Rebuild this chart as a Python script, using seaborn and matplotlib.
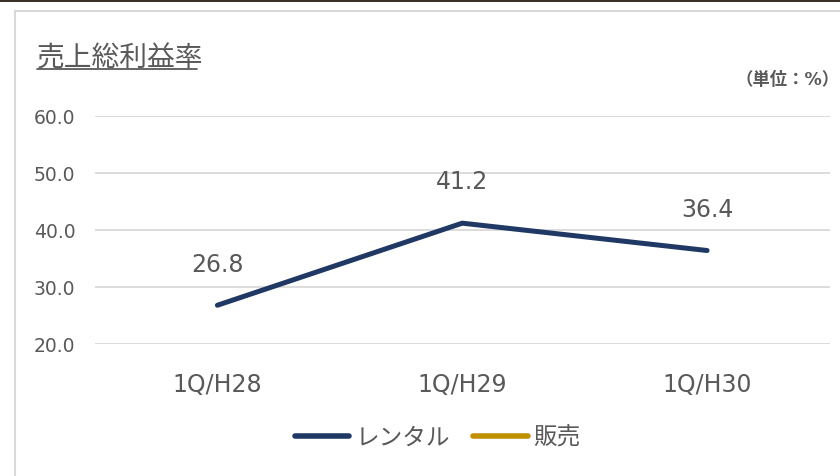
import pandas as pd
import matplotlib.pyplot as plt
import seaborn as sns
from matplotlib.lines import Line2D
from matplotlib.patches import Rectangle

# data
periods = ["1Q/H28", "1Q/H29", "1Q/H30"]
rental = [26.8, 41.2, 36.4]
series_names = ["レンタル", "販売"]
y_ticks = [20.0, 30.0, 40.0, 50.0, 60.0]

NAVY = "#1f3864"
GOLD = "#bf9000"
TEXT = "#595959"
GRID = "#d9d9d9"

sns.set_theme(style="white")
plt.rcParams['font.family'] = ['DejaVu Sans', 'Noto Sans CJK JP']

W, H = 840, 477
fig = plt.figure(figsize=(W / 100, H / 100), dpi=100)

# panel frame and top strip (kept behind the axes)
fig.add_artist(Rectangle((15 / W, -0.1), 1.2, 1 - 12 / H + 0.1, transform=fig.transFigure,
                         facecolor="white", edgecolor=GRID, lw=1.5, zorder=-10))
fig.add_artist(Rectangle((0, 1 - 3 / H), 1, 3 / H, transform=fig.transFigure,
                         facecolor="#3b3128", edgecolor="none", zorder=-10))

ax = fig.add_axes([95 / W, 1 - 345 / H, (829.5 - 95) / W, (345 - 117) / H])
ax.set_facecolor("none")

df = pd.DataFrame({"period": periods, "value": rental})
sns.lineplot(data=df, x="period", y="value", ax=ax, color=NAVY, lw=3.6,
             solid_capstyle="round", solid_joinstyle="round", legend=False)

for i, v in enumerate(rental):
    ax.annotate(f"{v:.1f}", (i, v), xytext=(0, 30), textcoords="offset points",
                ha="center", va="center", fontsize=17, color=TEXT)

ax.set_xlim(-0.5, len(periods) - 0.5)
ax.set_ylim(20, 60)
ax.set_yticks(y_ticks)
ax.set_yticklabels([f"{t:.1f}" for t in y_ticks])
ax.yaxis.grid(True, color=GRID, lw=1.3)
ax.set_axisbelow(True)
for s in ax.spines.values():
    s.set_visible(False)
ax.tick_params(axis="y", length=0, pad=14, labelsize=13.5, labelcolor=TEXT)
ax.tick_params(axis="x", length=0, pad=20, labelsize=17, labelcolor=TEXT)
ax.set_xlabel("")
ax.set_ylabel("")

# title with underline
fig.text(37 / W, 1 - 66 / H, "売上総利益率", fontsize=20, color=TEXT, ha="left", va="baseline")
fig.add_artist(Line2D([37 / W, 197 / W], [1 - 70 / H, 1 - 70 / H], transform=fig.transFigure,
                      color=TEXT, lw=1.3))

fig.text(840 / W, 1 - 80 / H, "（単位：%）", fontsize=12.5, color=TEXT, fontweight="bold",
         ha="right", va="center")

handles = [Line2D([], [], color=NAVY, lw=4, solid_capstyle="round"),
           Line2D([], [], color=GOLD, lw=4, solid_capstyle="round")]
fig.legend(handles, series_names, loc="center", bbox_to_anchor=(438 / W, 1 - 438 / H),
           ncol=2, frameon=False, fontsize=17, labelcolor=TEXT, handlelength=2.3,
           handletextpad=0.25, columnspacing=1.0)

fig.savefig("out.png", dpi=100)
